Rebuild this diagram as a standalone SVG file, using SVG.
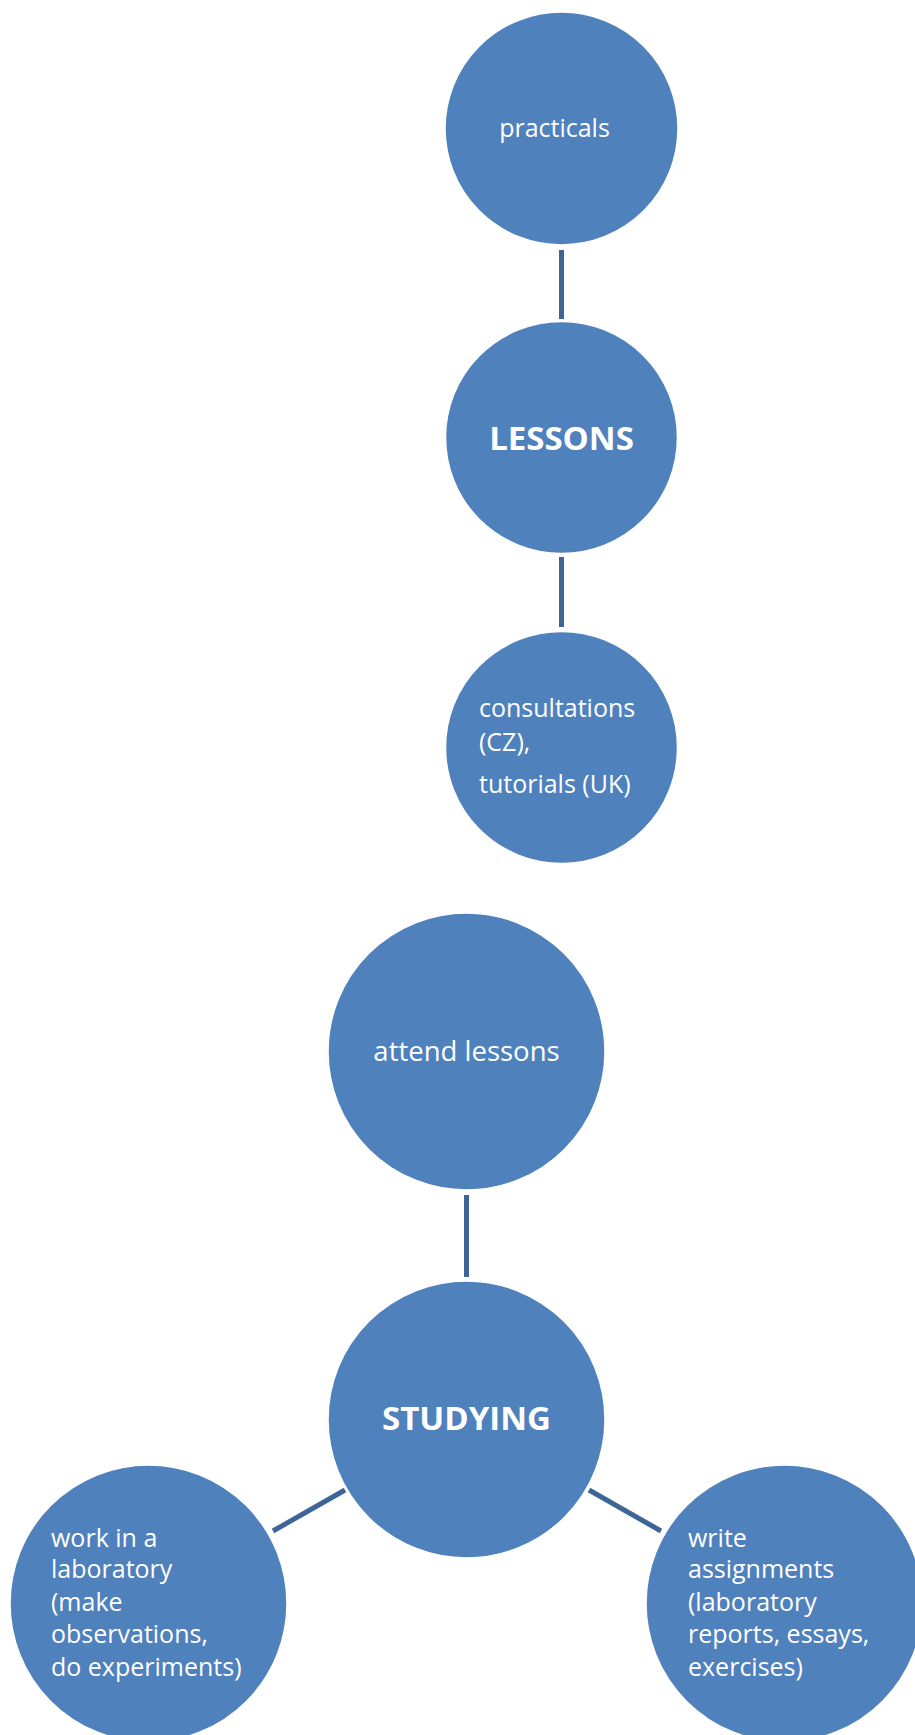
<svg xmlns="http://www.w3.org/2000/svg" width="915" height="1735" viewBox="0 0 915 1735">
<style>
.node{fill:#4f81bd;stroke:#ffffff;stroke-width:1.5}
.t{fill:#ffffff;font-family:"Open Sans","Noto Sans",sans-serif;font-size:25px}
.b{font-weight:bold;font-size:33px}
.c{text-anchor:middle}
.conn line{stroke:#3d6596;stroke-width:5}
</style>
<rect width="915" height="1735" fill="#ffffff"/>
<g id="connectors" class="conn">
<line x1="561.5" y1="250" x2="561.5" y2="319"/>
<line x1="561.5" y1="557" x2="561.5" y2="627"/>
<line x1="466.5" y1="1195" x2="466.5" y2="1277"/>
<line x1="345" y1="1490" x2="273" y2="1531"/>
<line x1="589" y1="1490" x2="661" y2="1531"/>
</g>
<g id="practicals">
<circle class="node" cx="561.5" cy="128.5" r="116.5"/>
<text class="t c" x="554.5" y="137">practicals</text>
</g>
<g id="lessons">
<circle class="node" cx="561.5" cy="437.5" r="116"/>
<text class="t b c" x="561.5" y="450">LESSONS</text>
</g>
<g id="consultations">
<circle class="node" cx="561.5" cy="747.5" r="116"/>
<text class="t" x="479" y="717">consultations</text>
<text class="t" x="479" y="751">(CZ),</text>
<text class="t" x="479" y="793">tutorials (UK)</text>
</g>
<g id="attend">
<circle class="node" cx="466.5" cy="1051.5" r="138.5"/>
<text class="t c" x="466.5" y="1061" style="font-size:27.5px">attend lessons</text>
</g>
<g id="studying">
<circle class="node" cx="466.5" cy="1419.5" r="138.5"/>
<text class="t b c" x="466.5" y="1430">STUDYING</text>
</g>
<g id="laboratory">
<circle class="node" cx="148.5" cy="1603.5" r="138.5"/>
<text class="t" x="51" y="1547">work in a</text>
<text class="t" x="51" y="1578">laboratory</text>
<text class="t" x="51" y="1611">(make</text>
<text class="t" x="51" y="1643">observations,</text>
<text class="t" x="51" y="1676">do experiments)</text>
</g>
<g id="assignments">
<circle class="node" cx="784.5" cy="1603.5" r="138.5"/>
<text class="t" x="688" y="1547">write</text>
<text class="t" x="688" y="1578">assignments</text>
<text class="t" x="688" y="1611">(laboratory</text>
<text class="t" x="688" y="1643">reports, essays,</text>
<text class="t" x="688" y="1676">exercises)</text>
</g>
</svg>
